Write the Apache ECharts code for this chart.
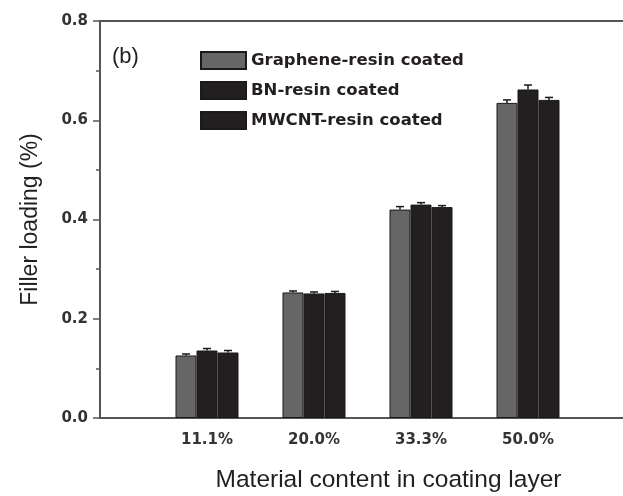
<!DOCTYPE html>
<html>
<head>
<meta charset="utf-8">
<style>
  html, body { margin: 0; padding: 0; background: #fff; }
  #chart { width: 623px; height: 496px; }
</style>
<script src="https://cdn.jsdelivr.net/npm/echarts@6/dist/echarts.min.js"></script>
</head>
<body>
<div id="chart"></div>
<script>
// Filler loading for each coating material vs. material content in the coating layer
const categories = ['', '11.1%', '20.0%', '33.3%', '50.0%', ''];
const seriesNames = ['Graphene-resin coated', 'BN-resin coated', 'MWCNT-resin coated'];
const grapheneLoading = [null, 0.126, 0.253, 0.420, 0.635, null];
const bnLoading = [null, 0.136, 0.251, 0.430, 0.662, null];
const mwcntLoading = [null, 0.132, 0.252, 0.425, 0.641, null];
const grapheneErr = [0, 0.003, 0.003, 0.006, 0.006, 0];
const bnErr = [0, 0.004, 0.003, 0.004, 0.009, 0];
const mwcntErr = [0, 0.004, 0.003, 0.003, 0.005, 0];
const yTickLabels = ['0.0', '0.2', '0.4', '0.6', '0.8'];

const barColors = ['#666666', '#231f20', '#231f20'];
const BAR_W = 21;

const values = [grapheneLoading, bnLoading, mwcntLoading];
const errors = [grapheneErr, bnErr, mwcntErr];

const barSeries = values.map((vals, k) => ({
  name: seriesNames[k],
  type: 'bar',
  data: vals,
  barWidth: BAR_W,
  barGap: '0%',
  itemStyle: { color: barColors[k], borderColor: '#1a1a1a', borderWidth: 1 },
  z: 2
}));

// Error bar whiskers drawn above each bar
const errSeries = values.map((vals, k) => ({
  name: seriesNames[k] + ' error',
  type: 'custom',
  z: 5,
  data: vals.map((v, i) => v == null ? null : [i, v, errors[k][i]]).filter(d => d),
  encode: { x: 0, y: 1 },
  renderItem: function (params, api) {
    const idx = api.value(0), v = api.value(1), e = api.value(2);
    const off = (k - 1) * BAR_W;
    const top = api.coord([idx, v + e]);
    const base = api.coord([idx, v]);
    const x = top[0] + off;
    const style = { stroke: '#1a1a1a', lineWidth: 1.5 };
    return {
      type: 'group',
      children: [
        { type: 'line', shape: { x1: x, y1: base[1], x2: x, y2: top[1] }, style },
        { type: 'line', shape: { x1: x - 4, y1: top[1], x2: x + 4, y2: top[1] }, style }
      ]
    };
  }
}));

const chart = echarts.init(document.getElementById('chart'));
chart.setOption({
  backgroundColor: '#ffffff',
  animation: false,
  grid: {
    left: 100, top: 21, width: 535, height: 397,
    outerBoundsMode: 'none',
    containLabel: false,
    show: true, borderColor: '#555555', borderWidth: 2
  },
  legend: {
    data: seriesNames,
    orient: 'vertical',
    left: 200, top: 51,
    padding: 0,
    itemWidth: 45, itemHeight: 17, itemGap: 11,
    icon: 'rect',
    textStyle: { fontFamily: 'DejaVu Sans', fontWeight: 'bold', fontSize: 16.5, color: '#231f20' }
  },
  graphic: [{
    type: 'text', left: 112, top: 46,
    style: { text: '(b)', font: '22px "Liberation Sans"', fill: '#231f20' }
  }],
  xAxis: {
    type: 'category',
    data: categories,
    boundaryGap: false,
    axisLine: { lineStyle: { color: '#555555', width: 2 } },
    axisTick: { show: false },
    axisLabel: { interval: 0, margin: 15, fontFamily: 'DejaVu Sans', fontWeight: 'bold', fontSize: 15, color: '#333333' },
    name: 'Material content in coating layer',
    nameLocation: 'middle',
    nameGap: 50,
    nameTextStyle: { fontFamily: 'Liberation Sans', fontSize: 24.5, color: '#231f20', padding: [0, 0, 0, 42] }
  },
  yAxis: {
    type: 'value',
    min: 0, max: 0.8, interval: 0.2,
    axisLine: { show: true, lineStyle: { color: '#555555', width: 2 } },
    axisTick: { show: true, length: 7, lineStyle: { color: '#555555', width: 1.5 } },
    minorTick: { show: true, splitNumber: 2, length: 4, lineStyle: { color: '#555555', width: 1.5 } },
    splitLine: { show: false },
    axisLabel: {
      margin: 12, fontFamily: 'DejaVu Sans', fontWeight: 'bold', fontSize: 15, color: '#333333',
      formatter: v => yTickLabels[Math.round(v / 0.2)]
    },
    name: 'Filler loading (%)',
    nameLocation: 'middle',
    nameGap: 58,
    nameTextStyle: { fontFamily: 'Liberation Sans', fontSize: 23, color: '#231f20' }
  },
  series: barSeries.concat(errSeries)
});
</script>
</body>
</html>
